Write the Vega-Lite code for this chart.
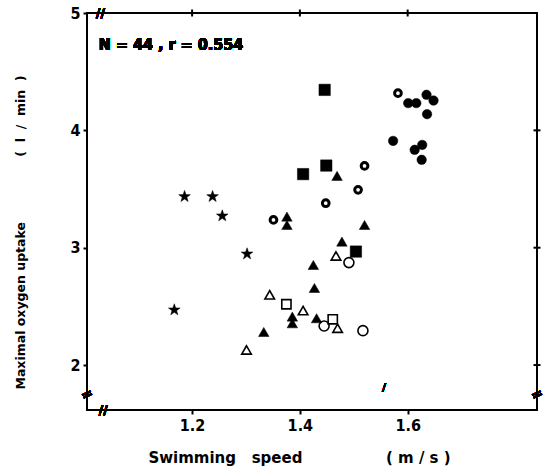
{
  "$schema": "https://vega.github.io/schema/vega-lite/v6.json",
  "width": 450,
  "height": 397,
  "autosize": {"type": "none"},
  "padding": {"left": 87, "top": 13, "right": 10, "bottom": 63},
  "background": "white",
  "config": {
    "view": {"stroke": "black", "strokeWidth": 2},
    "font": "DejaVu Sans Condensed, Liberation Sans, sans-serif"
  },
  "datasets": {
    "xticks": [{"t": 1.2}, {"t": 1.4}, {"t": 1.6}],
    "yticks": [{"t": 2}, {"t": 3}, {"t": 4}]
  },
  "data": {
    "values": [
      {"speed": 1.186, "vo2": 3.436, "group": "star"},
      {"speed": 1.238, "vo2": 3.436, "group": "star"},
      {"speed": 1.256, "vo2": 3.271, "group": "star"},
      {"speed": 1.302, "vo2": 2.947, "group": "star"},
      {"speed": 1.167, "vo2": 2.470, "group": "star"},
      {"speed": 1.446, "vo2": 4.345, "group": "sqF"},
      {"speed": 1.449, "vo2": 3.700, "group": "sqF"},
      {"speed": 1.406, "vo2": 3.627, "group": "sqF"},
      {"speed": 1.504, "vo2": 2.967, "group": "sqF"},
      {"speed": 1.375, "vo2": 2.518, "group": "sqO"},
      {"speed": 1.461, "vo2": 2.390, "group": "sqO"},
      {"speed": 1.469, "vo2": 3.612, "group": "triF"},
      {"speed": 1.376, "vo2": 3.265, "group": "triF"},
      {"speed": 1.376, "vo2": 3.194, "group": "triF"},
      {"speed": 1.520, "vo2": 3.194, "group": "triF"},
      {"speed": 1.478, "vo2": 3.052, "group": "triF"},
      {"speed": 1.425, "vo2": 2.853, "group": "triF"},
      {"speed": 1.427, "vo2": 2.657, "group": "triF"},
      {"speed": 1.386, "vo2": 2.413, "group": "triF"},
      {"speed": 1.386, "vo2": 2.356, "group": "triF"},
      {"speed": 1.431, "vo2": 2.399, "group": "triF"},
      {"speed": 1.333, "vo2": 2.282, "group": "triF"},
      {"speed": 1.344, "vo2": 2.598, "group": "triO"},
      {"speed": 1.406, "vo2": 2.464, "group": "triO"},
      {"speed": 1.470, "vo2": 2.314, "group": "triO"},
      {"speed": 1.301, "vo2": 2.129, "group": "triO"},
      {"speed": 1.467, "vo2": 2.930, "group": "triO"},
      {"speed": 1.491, "vo2": 2.873, "group": "cirO"},
      {"speed": 1.445, "vo2": 2.333, "group": "cirO"},
      {"speed": 1.517, "vo2": 2.293, "group": "cirO"},
      {"speed": 1.582, "vo2": 4.317, "group": "cirD"},
      {"speed": 1.520, "vo2": 3.697, "group": "cirD"},
      {"speed": 1.508, "vo2": 3.493, "group": "cirD"},
      {"speed": 1.448, "vo2": 3.379, "group": "cirD"},
      {"speed": 1.351, "vo2": 3.237, "group": "cirD"},
      {"speed": 1.601, "vo2": 4.232, "group": "cirF"},
      {"speed": 1.616, "vo2": 4.232, "group": "cirF"},
      {"speed": 1.635, "vo2": 4.303, "group": "cirF"},
      {"speed": 1.648, "vo2": 4.254, "group": "cirF"},
      {"speed": 1.636, "vo2": 4.138, "group": "cirF"},
      {"speed": 1.573, "vo2": 3.910, "group": "cirF"},
      {"speed": 1.613, "vo2": 3.834, "group": "cirF"},
      {"speed": 1.627, "vo2": 3.876, "group": "cirF"},
      {"speed": 1.626, "vo2": 3.749, "group": "cirF"}
    ]
  },
  "resolve": {
    "axis": {"x": "independent", "y": "independent"},
    "scale": {"shape": "independent", "size": "independent"}
  },
  "layer": [
    {
      "mark": {"type": "point", "opacity": 0},
      "encoding": {
        "x": {
          "field": "speed", "type": "quantitative",
          "scale": {"domain": [1.005, 1.84], "nice": false, "zero": false},
          "axis": {
            "orient": "bottom", "values": [1.2, 1.4, 1.6], "format": ".1f",
            "domain": false, "grid": false, "tickColor": "black", "tickSize": 4, "tickWidth": 2,
            "labelFont": "DejaVu Sans Condensed, Liberation Sans, sans-serif", "labelFontSize": 16, "labelFontWeight": "bold",
            "labelColor": "black", "labelPadding": 3,
            "title": "Swimming\u00a0\u00a0\u00a0speed\u00a0\u00a0\u00a0\u00a0\u00a0\u00a0\u00a0\u00a0\u00a0\u00a0\u00a0\u00a0\u00a0\u00a0\u00a0\u00a0(\u00a0m\u00a0/\u00a0s\u00a0)",
            "titleFont": "DejaVu Sans", "titleFontSize": 15, "titleFontWeight": "bold", "titleColor": "black",
            "titleX": 212, "titleY": 47, "titleAlign": "center", "titleBaseline": "middle"
          }
        },
        "y": {
          "field": "vo2", "type": "quantitative",
          "scale": {"domain": [1.617, 5], "nice": false, "zero": false},
          "axis": {
            "orient": "left", "values": [2, 3, 4, 5], "format": "d",
            "domain": false, "grid": false, "tickColor": "black", "tickSize": 4, "tickWidth": 2,
            "labelFont": "DejaVu Sans Condensed, Liberation Sans, sans-serif", "labelFontSize": 16, "labelFontWeight": "bold",
            "labelColor": "black", "labelPadding": 3,
            "title": "Maximal oxygen uptake\u00a0\u00a0\u00a0\u00a0\u00a0\u00a0\u00a0\u00a0\u00a0\u00a0\u00a0\u00a0\u00a0\u00a0\u00a0(\u00a0\u00a0l\u00a0\u00a0/\u00a0\u00a0min\u00a0\u00a0)",
            "titleFont": "DejaVu Sans", "titleFontSize": 12.5, "titleFontWeight": "bold", "titleColor": "black",
            "titleX": -67, "titleY": 219, "titleAngle": 270, "titleAlign": "center", "titleBaseline": "middle"
          }
        }
      }
    },
    {
      "data": {"name": "xticks"},
      "mark": {"type": "tick", "orient": "vertical", "color": "black", "size": 7, "thickness": 2, "opacity": 1},
      "encoding": {
        "x": {"field": "t", "type": "quantitative", "axis": null},
        "y": {"datum": 5, "axis": null}
      }
    },
    {
      "data": {"name": "yticks"},
      "mark": {"type": "tick", "orient": "horizontal", "color": "black", "size": 7, "thickness": 2, "opacity": 1},
      "encoding": {
        "y": {"field": "t", "type": "quantitative", "axis": null},
        "x": {"datum": 1.84, "axis": null}
      }
    },
    {
      "transform": [{"filter": {"field": "group", "oneOf": ["star", "sqF", "triF", "cirF"]}}],
      "mark": {"type": "point", "filled": true, "fill": "black", "stroke": "black", "strokeWidth": 0.5, "opacity": 1},
      "encoding": {
        "x": {"field": "speed", "type": "quantitative", "axis": null},
        "y": {"field": "vo2", "type": "quantitative", "axis": null},
        "shape": {
          "field": "group", "type": "nominal", "legend": null,
          "scale": {
            "domain": ["star", "sqF", "triF", "cirF"],
            "range": ["M0,-1L0.235,-0.324L0.951,-0.309L0.38,0.124L0.588,0.809L0,0.4L-0.588,0.809L-0.38,0.124L-0.951,-0.309L-0.235,-0.324Z", "square", "triangle-up", "circle"]
          }
        },
        "size": {
          "field": "group", "type": "nominal", "legend": null,
          "scale": {"domain": ["star", "sqF", "triF", "cirF"], "range": [150, 90, 121, 100]}
        }
      }
    },
    {
      "transform": [{"filter": {"field": "group", "oneOf": ["sqO", "triO", "cirO"]}}],
      "mark": {"type": "point", "filled": false, "stroke": "black", "strokeWidth": 1.6, "opacity": 1},
      "encoding": {
        "x": {"field": "speed", "type": "quantitative", "axis": null},
        "y": {"field": "vo2", "type": "quantitative", "axis": null},
        "shape": {
          "field": "group", "type": "nominal", "legend": null,
          "scale": {"domain": ["sqO", "triO", "cirO"], "range": ["square", "triangle-up", "circle"]}
        },
        "size": {
          "field": "group", "type": "nominal", "legend": null,
          "scale": {"domain": ["sqO", "triO", "cirO"], "range": [85, 100, 85]}
        }
      }
    },
    {
      "transform": [{"filter": {"field": "group", "equal": "cirD"}}],
      "mark": {"type": "point", "shape": "circle", "filled": false, "stroke": "black", "strokeWidth": 3, "size": 45, "opacity": 1},
      "encoding": {
        "x": {"field": "speed", "type": "quantitative", "axis": null},
        "y": {"field": "vo2", "type": "quantitative", "axis": null}
      }
    },
    {
      "mark": {"type": "text", "text": "N = 44 , r = 0.554", "align": "left", "baseline": "middle",
               "font": "DejaVu Sans Condensed, Liberation Sans, sans-serif", "fontSize": 16, "fontWeight": "bold", "color": "black"},
      "encoding": {"x": {"datum": 1.027, "axis": null}, "y": {"datum": 4.729, "axis": null}}
    },
    {
      "mark": {"type": "text", "text": "//", "align": "center", "baseline": "middle",
               "font": "DejaVu Sans", "fontSize": 12, "fontWeight": "bold", "color": "black"},
      "encoding": {"x": {"datum": 1.03, "axis": null}, "y": {"datum": 5.0, "axis": null}}
    },
    {
      "mark": {"type": "text", "text": "//", "align": "center", "baseline": "middle",
               "font": "DejaVu Sans", "fontSize": 12, "fontWeight": "bold", "color": "black"},
      "encoding": {"x": {"datum": 1.035, "axis": null}, "y": {"datum": 1.617, "axis": null}}
    },
    {
      "mark": {"type": "text", "text": "=", "align": "center", "baseline": "middle", "angle": -25,
               "font": "DejaVu Sans", "fontSize": 14, "fontWeight": "bold", "color": "black"},
      "encoding": {"x": {"datum": 1.005, "axis": null}, "y": {"datum": 1.745, "axis": null}}
    },
    {
      "mark": {"type": "text", "text": "=", "align": "center", "baseline": "middle", "angle": -25,
               "font": "DejaVu Sans", "fontSize": 14, "fontWeight": "bold", "color": "black"},
      "encoding": {"x": {"datum": 1.84, "axis": null}, "y": {"datum": 1.745, "axis": null}}
    },
    {
      "mark": {"type": "text", "text": "/", "align": "center", "baseline": "middle",
               "font": "DejaVu Sans", "fontSize": 11, "fontWeight": "bold", "color": "black"},
      "encoding": {"x": {"datum": 1.556, "axis": null}, "y": {"datum": 1.805, "axis": null}}
    }
  ]
}
